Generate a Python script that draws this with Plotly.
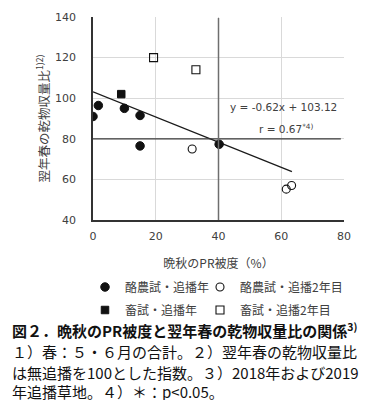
import plotly.graph_objects as go

# ---- data ----
rakuno_y1_x = [0, 1.7, 10, 15, 15, 40.2]
rakuno_y1_y = [91, 96.4, 95, 91.5, 76.5, 77.3]
rakuno_y2_x = [31.6, 61.6, 63.3]
rakuno_y2_y = [75, 55.2, 57]
chiku_y1_x = [9]
chiku_y1_y = [102]
chiku_y2_x = [19.3, 32.8]
chiku_y2_y = [120, 114]

slope = -0.62
intercept = 103.12
fit_x = [0, 63.4]
fit_y = [slope * v + intercept for v in fit_x]

x_ticks = [0, 20, 40, 60, 80]
y_ticks = [40, 60, 80, 100, 120, 140]

series_names = ["酪農試・追播年", "酪農試・追播2年目", "畜試・追播年", "畜試・追播2年目"]

caption_lines = [
    "図２．晩秋のPR被度と翌年春の乾物収量比の関係<sup>3)</sup>",
    "１）春：５・６月の合計。２）翌年春の乾物収量比",
    "は無追播を100とした指数。３）2018年および2019",
    "年追播草地。４）＊：p<0.05。",
]

TXT = "#404040"
FONT = "DejaVu Sans"
JP = "Noto Sans CJK JP"

fig = go.Figure()

# reference lines
fig.add_shape(type="line", x0=0, x1=79, y0=80, y1=80, xref="x", yref="y",
              line=dict(color="#3a3a3a", width=1.2), layer="above")
fig.add_shape(type="line", x0=40, x1=40, y0=40, y1=139.5, xref="x", yref="y",
              line=dict(color="#6e6e6e", width=1.5), layer="above")

fig.add_trace(go.Scatter(x=fit_x, y=fit_y, mode="lines", showlegend=False,
                         line=dict(color="#1a1a1a", width=1.3), hoverinfo="skip"))

mk = dict(color="#111111", line=dict(color="#111111", width=1))
fig.add_trace(go.Scatter(x=rakuno_y1_x, y=rakuno_y1_y, mode="markers", name=series_names[0],
                         marker=dict(symbol="circle", size=8.5, **mk), legend="legend"))
fig.add_trace(go.Scatter(x=rakuno_y2_x, y=rakuno_y2_y, mode="markers", name=series_names[1],
                         marker=dict(symbol="circle-open", size=8, color="#111111",
                                     line=dict(width=1.1)), legend="legend2"))
fig.add_trace(go.Scatter(x=chiku_y1_x, y=chiku_y1_y, mode="markers", name=series_names[2],
                         marker=dict(symbol="square", size=7.5, **mk), legend="legend3"))
fig.add_trace(go.Scatter(x=chiku_y2_x, y=chiku_y2_y, mode="markers", name=series_names[3],
                         marker=dict(symbol="square-open", size=8, color="#111111",
                                     line=dict(width=1.1)), legend="legend4"))

# annotations
fig.add_annotation(x=78.5, y=95.6, xref="x", yref="y", text="y = -0.62x + 103.12",
                   showarrow=False, xanchor="right", yanchor="middle",
                   font=dict(family=FONT, size=10.5, color=TXT))
fig.add_annotation(x=52.4, y=85.3, xref="x", yref="y", text="r = 0.67<sup>*4)</sup>",
                   showarrow=False, xanchor="left", yanchor="middle",
                   font=dict(family=FONT, size=10.5, color=TXT))

H_PLOT = 203.0
W_PLOT = 251.0
def py(pix):
    return (220 - pix) / H_PLOT
def px(pix):
    return (pix - 93) / W_PLOT

for i, (line, ypix) in enumerate(zip(caption_lines, [330, 351, 372, 392])):
    fig.add_annotation(x=-0.33, y=py(ypix), xref="paper", yref="paper", text=line,
                       showarrow=False, xanchor="left", yanchor="middle",
                       font=dict(family=JP, size=15,
                                 color="#111111", weight="bold" if i == 0 else "normal"))

def leg(xpix, ypix):
    return dict(orientation="h", xanchor="left", yanchor="middle", x=px(xpix), y=py(ypix),
                font=dict(family=JP, size=12, color=TXT), bgcolor="rgba(0,0,0,0)")

fig.update_layout(
    width=381, height=400,
    margin=dict(l=93, r=37, t=17, b=180),
    paper_bgcolor="white", plot_bgcolor="white",
    font=dict(family=FONT, color=TXT),
    legend=leg(85, 287),
    legend2=leg(200, 287),
    legend3=leg(85, 310),
    legend4=leg(200, 310),
    xaxis=dict(range=[0, 80], tickvals=x_ticks, showgrid=True, gridcolor="#d9d9d9",
               gridwidth=1, zeroline=False, showline=True, linecolor="#333333",
               linewidth=1.5, ticks="", ticklabelstandoff=5,
               tickfont=dict(family=FONT, size=11, color=TXT),
               title=dict(text="晩秋のPR被度（%）", standoff=18,
                          font=dict(family=JP, size=12, color=TXT)),
               mirror=False),
    yaxis=dict(range=[40, 140], tickvals=y_ticks, showgrid=True, gridcolor="#d9d9d9",
               gridwidth=1, zeroline=False, showline=True, linecolor="#333333",
               linewidth=1.5, ticks="", ticklabelstandoff=13,
               tickfont=dict(family=FONT, size=11, color=TXT),
               title=dict(text="翌年春の乾物収量比<sup>1)2)</sup>", standoff=3,
                          font=dict(family=JP, size=12.5, color=TXT))),
)

fig.write_html("out.html", config={"displayModeBar": False},
               post_script="document.body.style.margin='0';")
